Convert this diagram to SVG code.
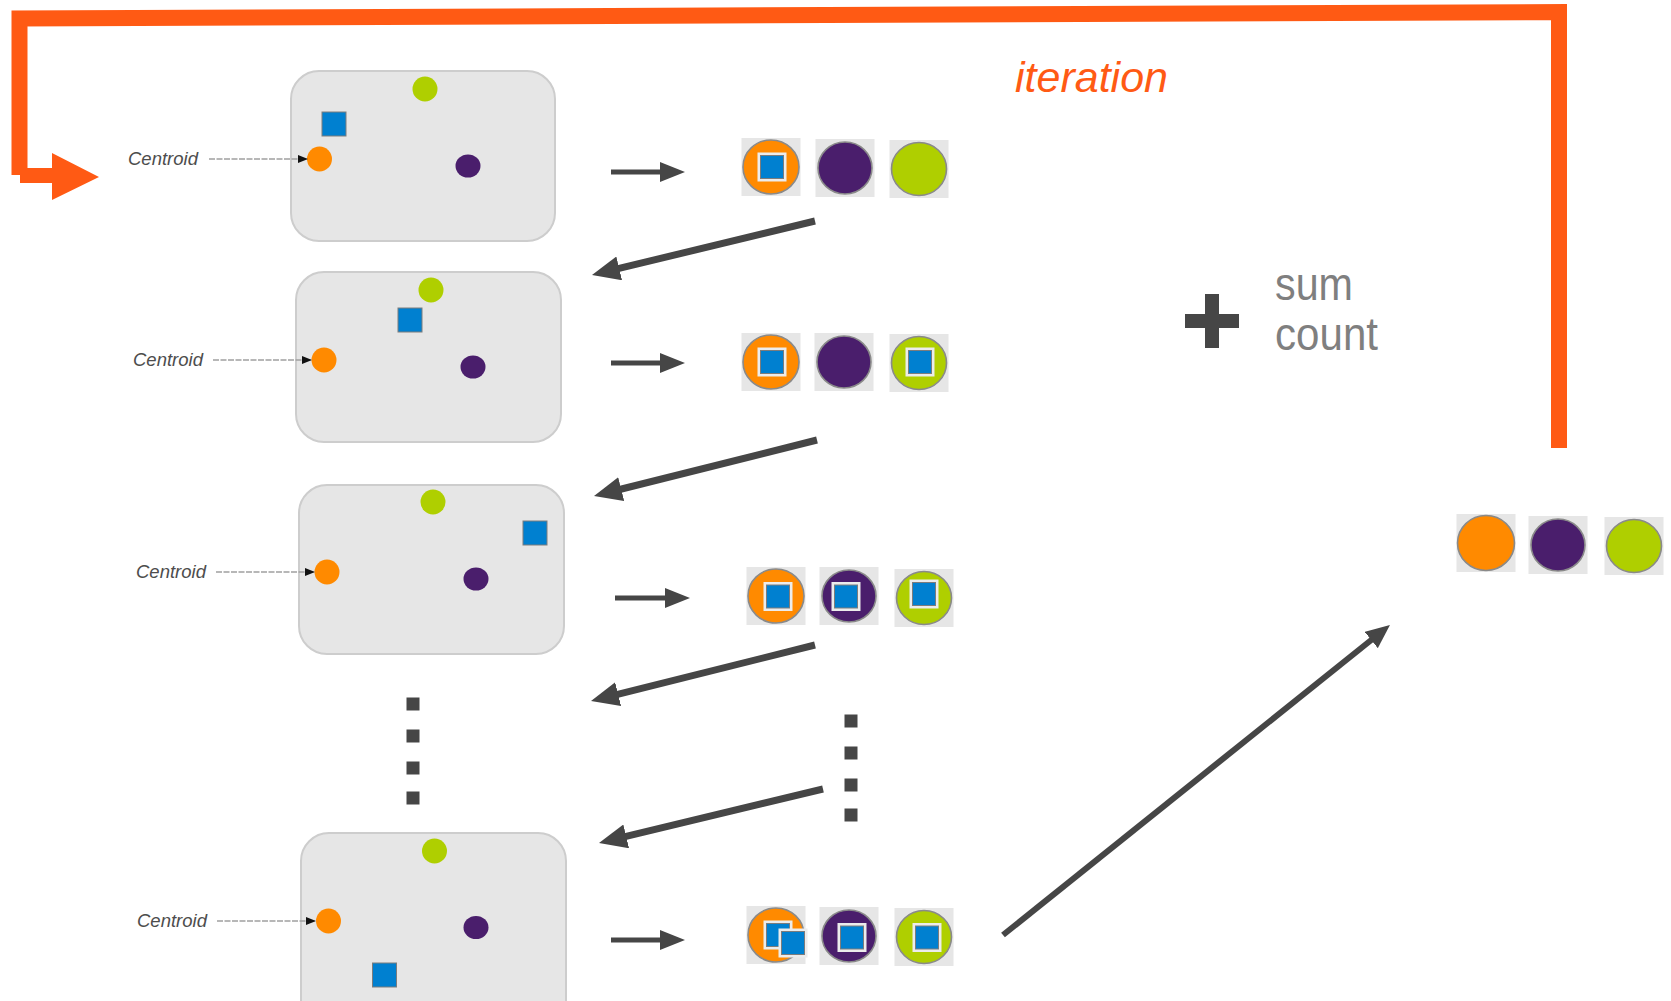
<svg xmlns="http://www.w3.org/2000/svg" xmlns:xlink="http://www.w3.org/1999/xlink" width="1671" height="1001" viewBox="0 0 1671 1001">
  <style>
    .panel { fill: #e6e6e6; stroke: #cdcdcd; stroke-width: 2; }
    .lbl { font-family: "Liberation Sans", Arial, sans-serif; font-style: italic; font-size: 18.5px; fill: #4d4d4d; }
    .pt-o { fill: #ff8a00; }
    .pt-p { fill: #4a1e6c; }
    .pt-g { fill: #afcf00; }
    .pt-b { fill: #0080d0; stroke: #7c7c7c; stroke-width: 1; }
    .ptr { stroke: #a0a0a0; stroke-width: 1.5; stroke-dasharray: 6 1.5; fill: none; }
    .icon-bg { fill: #e6e6e6; }
    .icon-ring { stroke: #8a8a8a; stroke-width: 1.6; }
    .sq-frame { fill: #ececec; }
    .flow { stroke: #464646; fill: none; }
    .dot { fill: #464646; }
    .loop { stroke: #ff5a14; stroke-width: 16; fill: none; stroke-linejoin: miter; }
    .note { font-family: "Liberation Sans", Arial, sans-serif; font-size: 46px; fill: #7f7f7f; }
  </style>
  <defs>
    <!-- arrowhead for the slanted flow lines -->
    <marker id="head" viewBox="0 0 4 3.5" markerWidth="4" markerHeight="3.5" refX="2" refY="1.75" orient="auto" markerUnits="strokeWidth">
      <path d="M0,0 L4,1.75 L0,3.5 Z" fill="#464646"/>
    </marker>
    <!-- wider arrowhead for the short horizontal steps -->
    <marker id="head-wide" viewBox="0 0 5 4" markerWidth="5" markerHeight="4" refX="3" refY="2" orient="auto" markerUnits="strokeWidth">
      <path d="M0,0 L5,2 L0,4 Z" fill="#464646"/>
    </marker>
    <marker id="tick" viewBox="0 0 10 8" markerWidth="10" markerHeight="8" refX="9" refY="4" orient="auto" markerUnits="userSpaceOnUse">
      <path d="M0,0 L10,4 L0,8 Z" fill="#111"/>
    </marker>
    <!-- icon tile background -->
    <rect id="tile" class="icon-bg" x="-29.5" y="-29" width="59" height="58"/>
    <!-- assigned point: framed blue square -->
    <g id="sq">
      <rect class="sq-frame" x="-14.5" y="-14.5" width="29" height="29"/>
      <rect class="pt-b" x="-11.5" y="-11.5" width="23" height="23"/>
    </g>
  </defs>

  <!-- iteration loop -->
  <g id="loop">
    <path class="loop" d="M19.5 175 L19.5 18.5 L1559 12 L1559 448"/>
    <path d="M20 168 H52 V153 L99 177 L52 200 V183 H20 Z" fill="#ff5a14"/>
    <text x="1015" y="92" font-family="'Liberation Sans', Arial, sans-serif" font-style="italic" font-size="43" fill="#ff5a14">iteration</text>
  </g>

  <!-- data panels -->
  <g id="panel-1">
    <rect class="panel" x="291" y="71" width="264" height="170" rx="28"/>
    <circle class="pt-g" cx="425" cy="89" r="12.5"/>
    <rect class="pt-b" x="322" y="112" width="24" height="24"/>
    <circle class="pt-o" cx="319.5" cy="159" r="12.5"/>
    <ellipse class="pt-p" cx="468" cy="166" rx="12.5" ry="11.5"/>
    <text class="lbl" x="128" y="165">Centroid</text>
    <line class="ptr" x1="209" y1="159" x2="307" y2="159" marker-end="url(#tick)"/>
  </g>
  <g id="panel-2">
    <rect class="panel" x="296" y="272" width="265" height="170" rx="28"/>
    <circle class="pt-g" cx="431" cy="290" r="12.5"/>
    <rect class="pt-b" x="398" y="308" width="24" height="24"/>
    <circle class="pt-o" cx="324" cy="360" r="12.5"/>
    <ellipse class="pt-p" cx="473" cy="367" rx="12.5" ry="11.5"/>
    <text class="lbl" x="133" y="366">Centroid</text>
    <line class="ptr" x1="213" y1="360" x2="311" y2="360" marker-end="url(#tick)"/>
  </g>
  <g id="panel-3">
    <rect class="panel" x="299" y="485" width="265" height="169" rx="28"/>
    <circle class="pt-g" cx="433" cy="502" r="12.5"/>
    <rect class="pt-b" x="523" y="521" width="24" height="24"/>
    <circle class="pt-o" cx="327" cy="572" r="12.5"/>
    <ellipse class="pt-p" cx="476" cy="579" rx="12.5" ry="11.5"/>
    <text class="lbl" x="136" y="578">Centroid</text>
    <line class="ptr" x1="216" y1="572" x2="314" y2="572" marker-end="url(#tick)"/>
  </g>
  <g id="panel-4">
    <rect class="panel" x="301" y="833" width="265" height="200" rx="28"/>
    <circle class="pt-g" cx="434.5" cy="851" r="12.5"/>
    <rect class="pt-b" x="372.5" y="963" width="24" height="24"/>
    <circle class="pt-o" cx="328.5" cy="921" r="12.5"/>
    <ellipse class="pt-p" cx="476" cy="927.5" rx="12.5" ry="11.5"/>
    <text class="lbl" x="137" y="927">Centroid</text>
    <line class="ptr" x1="217" y1="921" x2="315" y2="921" marker-end="url(#tick)"/>
  </g>

  <!-- centroid tiles per step -->
  <g id="tiles-1">
    <use xlink:href="#tile" x="771" y="167"/>
    <ellipse class="pt-o icon-ring" cx="771" cy="167" rx="28" ry="27"/>
    <use xlink:href="#sq" x="772" y="167"/>
    <use xlink:href="#tile" x="845" y="168"/>
    <ellipse class="pt-p icon-ring" cx="845" cy="168" rx="27" ry="26"/>
    <use xlink:href="#tile" x="919" y="169"/>
    <ellipse class="pt-g icon-ring" cx="919" cy="169" rx="27.5" ry="26.5"/>
  </g>
  <g id="tiles-2">
    <use xlink:href="#tile" x="771" y="362"/>
    <ellipse class="pt-o icon-ring" cx="771" cy="362" rx="28" ry="27"/>
    <use xlink:href="#sq" x="772" y="362"/>
    <use xlink:href="#tile" x="844" y="362"/>
    <ellipse class="pt-p icon-ring" cx="844" cy="362" rx="27" ry="26"/>
    <use xlink:href="#tile" x="919" y="363"/>
    <ellipse class="pt-g icon-ring" cx="919" cy="363" rx="27.5" ry="26.5"/>
    <use xlink:href="#sq" x="920" y="362"/>
  </g>
  <g id="tiles-3">
    <use xlink:href="#tile" x="776" y="596"/>
    <ellipse class="pt-o icon-ring" cx="776" cy="596" rx="28" ry="27"/>
    <use xlink:href="#sq" x="778" y="596.5"/>
    <use xlink:href="#tile" x="849" y="596"/>
    <ellipse class="pt-p icon-ring" cx="849" cy="596" rx="27" ry="26"/>
    <use xlink:href="#sq" x="846" y="596.5"/>
    <use xlink:href="#tile" x="924" y="598"/>
    <ellipse class="pt-g icon-ring" cx="924" cy="598" rx="27.5" ry="26.5"/>
    <use xlink:href="#sq" x="924" y="594"/>
  </g>
  <g id="tiles-4">
    <use xlink:href="#tile" x="776" y="935"/>
    <ellipse class="pt-o icon-ring" cx="776" cy="935" rx="28" ry="27"/>
    <use xlink:href="#sq" x="778" y="935"/>
    <use xlink:href="#sq" x="793" y="943"/>
    <use xlink:href="#tile" x="849" y="936"/>
    <ellipse class="pt-p icon-ring" cx="849" cy="936" rx="27" ry="26"/>
    <use xlink:href="#sq" x="852" y="937.5"/>
    <use xlink:href="#tile" x="924" y="937"/>
    <ellipse class="pt-g icon-ring" cx="924" cy="937" rx="27.5" ry="26.5"/>
    <use xlink:href="#sq" x="927" y="937.5"/>
  </g>
  <g id="tiles-final">
    <use xlink:href="#tile" x="1486" y="543"/>
    <ellipse class="pt-o icon-ring" cx="1486" cy="543" rx="28.5" ry="27.5"/>
    <use xlink:href="#tile" x="1558" y="545"/>
    <ellipse class="pt-p icon-ring" cx="1558" cy="545" rx="27" ry="26"/>
    <use xlink:href="#tile" x="1634" y="546"/>
    <ellipse class="pt-g icon-ring" cx="1634" cy="546" rx="27.5" ry="26.5"/>
  </g>

  <!-- ellipsis marks -->
  <g id="ellipsis-left">
    <rect class="dot" x="406.5" y="697.5" width="13" height="13"/>
    <rect class="dot" x="406.5" y="729.5" width="13" height="13"/>
    <rect class="dot" x="406.5" y="761.5" width="13" height="13"/>
    <rect class="dot" x="406.5" y="791.5" width="13" height="13"/>
  </g>
  <g id="ellipsis-right">
    <rect class="dot" x="844.5" y="714.5" width="13" height="13"/>
    <rect class="dot" x="844.5" y="746.5" width="13" height="13"/>
    <rect class="dot" x="844.5" y="778.5" width="13" height="13"/>
    <rect class="dot" x="844.5" y="808.5" width="13" height="13"/>
  </g>

  <!-- accumulate -->
  <g id="accumulate">
    <rect x="1185" y="314" width="54" height="14" fill="#464646"/>
    <rect x="1205" y="294" width="14" height="54" fill="#464646"/>
    <text class="note" x="1275" y="300" textLength="78" lengthAdjust="spacingAndGlyphs">sum</text>
    <text class="note" x="1275" y="350" textLength="103" lengthAdjust="spacingAndGlyphs">count</text>
  </g>

  <!-- connectors -->
  <g id="connectors">
    <line class="flow" stroke-width="5" x1="611" y1="172" x2="675" y2="172" marker-end="url(#head-wide)"/>
    <line class="flow" stroke-width="5" x1="611" y1="363" x2="675" y2="363" marker-end="url(#head-wide)"/>
    <line class="flow" stroke-width="5" x1="615" y1="598" x2="680" y2="598" marker-end="url(#head-wide)"/>
    <line class="flow" stroke-width="5" x1="611" y1="940" x2="675" y2="940" marker-end="url(#head-wide)"/>
    <line class="flow" stroke-width="7" x1="815" y1="221" x2="605.6" y2="271.7" marker-end="url(#head)"/>
    <line class="flow" stroke-width="7" x1="817" y1="440" x2="607.6" y2="492.5" marker-end="url(#head)"/>
    <line class="flow" stroke-width="7" x1="815" y1="645" x2="604.6" y2="697.6" marker-end="url(#head)"/>
    <line class="flow" stroke-width="7" x1="823" y1="789" x2="612.6" y2="839.7" marker-end="url(#head)"/>
    <line class="flow" stroke-width="6" x1="1003" y1="935" x2="1380.6" y2="632.5" marker-end="url(#head)"/>
  </g>
</svg>
